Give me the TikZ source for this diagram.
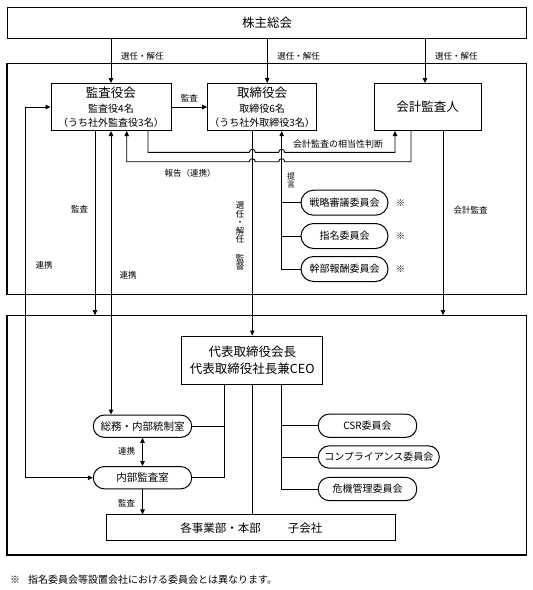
\documentclass[tikz,border=0pt]{standalone}
\usepackage{fontspec}
\setmainfont{Noto Sans CJK JP}
\usetikzlibrary{arrows.meta,calc}

\tikzset{
  box/.style={draw, line width=1pt, inner sep=0pt, align=center, fill=white},
  rbox/.style={box, rounded corners=#1},
  rbox/.default=11pt,
  frame/.style={draw, line width=1.1pt, inner sep=0pt},
  sub/.style={font=\fontsize{10}{13.5}\selectfont},
  lbl/.style={inner sep=0pt, align=center, font=\fontsize{8.5}{10}\selectfont},
  kome/.style={inner sep=0pt, font=\fontsize{9}{10}\selectfont},
  conn/.style={line width=0.9pt},
}

\begin{document}
\begin{tikzpicture}[x=1pt, y=-1pt, >={Triangle[length=5pt,width=4.5pt]}]
  \useasboundingbox (0,0) rectangle (533,590);

  % frames
  \node[frame, minimum width=519.7pt, minimum height=231pt] (grpA) at (266.85,178.8) {};
  \node[frame, minimum width=519.7pt, minimum height=239.3pt] (grpB) at (266.85,435.35) {};

  % top row
  \node[box, minimum width=519pt, minimum height=31pt, font=\fontsize{12.5}{15}\selectfont] (soukai) at (267,22.5) {株主総会};
  \node[box, sub, minimum width=120pt, minimum height=47pt] (kansa) at (111,107)
    {{\fontsize{12.5}{15}\selectfont 監査役会}\\[1.5pt]監査役4名\\（うち社外監査役3名）};
  \node[box, sub, minimum width=109pt, minimum height=47pt] (torishimari) at (262.2,107)
    {{\fontsize{12.5}{15}\selectfont 取締役会}\\[1.5pt]取締役6名\\（うち社外取締役3名）};
  \node[box, minimum width=107pt, minimum height=47pt, font=\fontsize{12.5}{15}\selectfont] (kaikei) at (427.5,107) {会計監査人};

  % committees of the board
  \node[rbox=12.5pt, minimum width=87pt, minimum height=25pt, font=\fontsize{10}{12}\selectfont] (senryaku) at (344.5,202.7) {戦略審議委員会};
  \node[rbox=12.5pt, minimum width=87pt, minimum height=25pt, font=\fontsize{10}{12}\selectfont] (shimei) at (344.5,236) {指名委員会};
  \node[rbox=12.5pt, minimum width=87pt, minimum height=25pt, font=\fontsize{10}{12}\selectfont] (kanbu) at (344.5,269) {幹部報酬委員会};
  \foreach \c in {senryaku,shimei,kanbu} {\node[kome] (\c-k) at ($(\c.east)+(12,0)$) {※};};

  % executive side
  \node[box, minimum width=141pt, minimum height=48pt, font=\fontsize{12.5}{16.7}\selectfont] (daihyo) at (252.3,360)
    {代表取締役会長\\代表取締役社長兼CEO};
  \node[rbox, minimum width=98.4pt, minimum height=22.3pt, font=\fontsize{10.5}{12}\selectfont] (soumu) at (142.5,426.2) {総務・内部統制室};
  \node[rbox, minimum width=98.4pt, minimum height=22.3pt, font=\fontsize{10.5}{12}\selectfont] (naibu) at (142.5,477.7) {内部監査室};
  \node[rbox, minimum width=98.4pt, minimum height=23.3pt, font=\fontsize{10}{12}\selectfont] (csr) at (367.5,425.7) {CSR委員会};
  \node[rbox, minimum width=121pt, minimum height=22.3pt, font=\fontsize{10}{12}\selectfont] (comp) at (378.8,457) {コンプライアンス委員会};
  \node[rbox, minimum width=98.4pt, minimum height=23.3pt, font=\fontsize{10}{12}\selectfont] (kiki) at (367.5,489) {危機管理委員会};
  \node[box, minimum width=289.3pt, minimum height=25.7pt, font=\fontsize{11.5}{14}\selectfont] (jigyo) at (251.3,527.8)
    {各事業部・本部\hspace{27pt}子会社};

  % helper coordinates
  \coordinate (xl) at (25,0);
  \coordinate (hA) at (0,152.3);
  \coordinate (hB) at (0,161.7);
  \coordinate (vA) at (daihyo.north);
  \coordinate (vB) at ($(daihyo.south)+(29.4,0)$);
  \coordinate (vL) at ($(daihyo.south)+(-28.3,0)$);
  \coordinate (ka1) at ($(kansa.south)+(-16,0)$);
  \coordinate (ka2) at ($(kansa.south)+(37,0)$);
  \coordinate (ka3) at ($(kansa.south)+(15.7,0)$);
  \coordinate (kc1) at ($(kaikei.south)+(-32.5,0)$);
  \coordinate (kc2) at ($(kaikei.south)+(-16.5,0)$);
  \coordinate (kc3) at ($(kaikei.south)+(15.5,0)$);

  % election by the shareholders
  \foreach \n/\dx in {kansa/0, torishimari/5, kaikei/-2.5} {
    \coordinate (t\n) at ($(\n.north)+(\dx,0)$);
    \draw[conn,->] (soukai.south -| t\n) -- (t\n);
    \node[lbl, anchor=west] (sn\n) at ($(t\n)+(10,-27)$) {選任・解任};
  };

  \draw[conn,->] (kansa.east) -- (torishimari.west) node[lbl, midway, above=5pt] (kansaL) {監査};
  \draw[conn,<->] (kansa.west) -- (kansa.west -| xl) |- (naibu.west);
  \node[lbl] (renkeiA) at (44,265) {連携};

  \draw[conn,->] (ka1) -- (ka1 |- grpB.north);
  \node[lbl] (kansaA) at (79.5,209) {監査};
  \draw[conn,<->] (kansa.south) -- (kansa.south |- soumu.north);
  \node[lbl] (renkeiB) at (128,275) {連携};

  % crossing lines with hops
  \draw[conn,->] (ka2) -- (ka2 |- hA)
    -- ($(vA |- hA)+(-3,0)$) .. controls +(0,-4) and +(0,-4) .. ++(6,0)
    -- ($(vB |- hA)+(-3,0)$) .. controls +(0,-4) and +(0,-4) .. ++(6,0)
    -| (kc1);
  \draw[conn,->] (kc2) -- (kc2 |- hB)
    -- ($(vB |- hB)+(3,0)$) .. controls +(0,-4) and +(0,-4) .. ++(-6,0)
    -- ($(vA |- hB)+(3,0)$) .. controls +(0,-4) and +(0,-4) .. ++(-6,0)
    -| (ka3);
  \node[lbl, font=\fontsize{9}{10}\selectfont] (soutou) at (338,144) {会計監査の相当性判断};
  \node[lbl] (houkoku) at (190,173) {報告（連携）};

  \draw[conn,->] (vA |- torishimari.south) -- (daihyo.north);
  \node[lbl, font=\fontsize{8.5}{8.5}\selectfont] (kantoku) at (240,236) {選\\任\\・\\解\\任\\[10pt]監\\督};

  \draw[conn,->] (kanbu.west) -| (vB |- torishimari.south);
  \draw[conn] (senryaku.west) -- (senryaku.west -| vB);
  \draw[conn] (shimei.west) -- (shimei.west -| vB);
  \node[lbl, font=\fontsize{8}{8}\selectfont] (teigen) at (291,180.5) {提\\言};

  \draw[conn,->] (kc3) -- (kc3 |- grpB.north);
  \node[lbl] (kaikeiL) at (470.6,210) {会計監査};

  % below the CEO
  \draw[conn] (naibu.east) -| (vL);
  \draw[conn] (soumu.east) -- (soumu.east -| vL);
  \draw[conn] (kiki.west) -| (vB);
  \draw[conn] (csr.west) -- (csr.west -| vB);
  \draw[conn] (comp.west) -- (comp.west -| vB);
  \draw[conn] (daihyo.south) -- (daihyo.south |- jigyo.north);
  \draw[conn,<->] (soumu.south) -- (naibu.north);
  \node[lbl] (renkeiC) at (126.7,451.7) {連携};
  \draw[conn,->] (naibu.south) -- (naibu.south |- jigyo.north);
  \node[lbl] (kansaB) at (126.7,503.3) {監査};

  \node[anchor=west, inner sep=0pt, font=\fontsize{10}{12}\selectfont] (note) at (10,580)
    {※\hspace{8pt}指名委員会等設置会社における委員会とは異なります。};
\end{tikzpicture}
\end{document}
